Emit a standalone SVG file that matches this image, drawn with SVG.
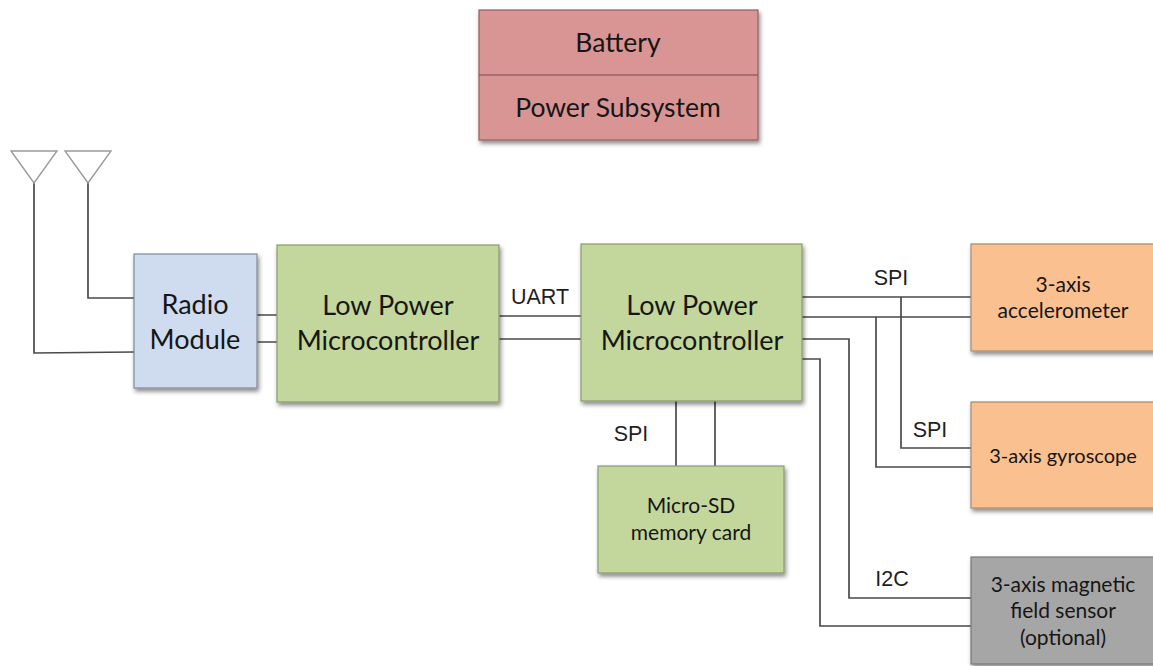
<svg xmlns="http://www.w3.org/2000/svg" width="1153" height="666" viewBox="0 0 1153 666">
<style>
.n{stroke-width:1.2}
.t{font-family:Lato,"Open Sans",sans-serif;fill:#161616;text-anchor:middle}
.l{font-family:"Liberation Sans",Arial,sans-serif;fill:#1f1f1f;font-size:21.5px;text-anchor:middle}
.c{fill:none;stroke:#4a4a4a;stroke-width:1.7}
.a{fill:#fff;stroke:#9a9a9a;stroke-width:1.4}
</style>
<defs>
<filter id="s" x="-10%" y="-10%" width="120%" height="125%">
<feDropShadow dx="1.5" dy="3" stdDeviation="2" flood-color="#000" flood-opacity="0.45"/>
</filter>
</defs>
<rect width="1153" height="666" fill="#fff"/>
<g id="connectors" class="c">
<path class="c" d="M88 183V298H134"/>
<path class="c" d="M34 183V353L134 352"/>
<path class="c" d="M257 315H277M257 342H277"/>
<path class="c" d="M499 316H581M499 339H581"/>
<path class="c" d="M676 401V466M715 401V466"/>
<path class="c" d="M802 297H971M802 317H971"/>
<path class="c" d="M901 297V448H971"/>
<path class="c" d="M876 317V467H971"/>
<path class="c" d="M802 339H849V598H971"/>
<path class="c" d="M802 359H820V626H973"/>
</g>
<g id="antenna1"><path class="a" d="M11 151H57L34 183Z"/></g>
<g id="antenna2"><path class="a" d="M65 151H111L88 183Z"/></g>
<g id="power">
<rect class="n" x="479" y="10" width="279" height="130" fill="#d99594" stroke="#8c6060" filter="url(#s)"/>
<path d="M479 75H758" stroke="#7a4a4a" stroke-width="1.2"/>
<text class="t" x="618" y="52" font-size="26.5">Battery</text>
<text class="t" x="618" y="117" font-size="26.5">Power Subsystem</text>
</g>
<g id="radio">
<rect class="n" x="134" y="254" width="123" height="134" fill="#cfdbee" stroke="#7f8a99" filter="url(#s)"/>
<text class="t" x="195" y="314" font-size="27">Radio</text>
<text class="t" x="195" y="349" font-size="27">Module</text>
</g>
<g id="mcu1">
<rect class="n" x="277" y="245" width="222" height="157" fill="#c3d69b" stroke="#8a9a70" filter="url(#s)"/>
<text class="t" x="388" y="315" font-size="27">Low Power</text>
<text class="t" x="388" y="350" font-size="27">Microcontroller</text>
</g>
<g id="mcu2">
<rect class="n" x="581" y="244" width="221" height="157" fill="#c3d69b" stroke="#8a9a70" filter="url(#s)"/>
<text class="t" x="692" y="315" font-size="27">Low Power</text>
<text class="t" x="692" y="350" font-size="27">Microcontroller</text>
</g>
<g id="sdcard">
<rect class="n" x="598" y="466" width="186" height="107" fill="#c3d69b" stroke="#8a9a70" filter="url(#s)"/>
<text class="t" x="691" y="513" font-size="21">Micro-SD</text>
<text class="t" x="691" y="540" font-size="21">memory card</text>
</g>
<g id="accelerometer">
<rect class="n" x="971" y="244" width="190" height="107" fill="#fac090" stroke="#a58a70" filter="url(#s)"/>
<text class="t" x="1063" y="292" font-size="21">3-axis</text>
<text class="t" x="1063" y="318" font-size="21">accelerometer</text>
</g>
<g id="gyroscope">
<rect class="n" x="971" y="402" width="190" height="106" fill="#fac090" stroke="#a58a70" filter="url(#s)"/>
<text class="t" x="1063" y="463" font-size="20">3-axis gyroscope</text>
</g>
<g id="magnetic">
<rect class="n" x="971" y="557" width="190" height="107" fill="#a6a6a6" stroke="#777" filter="url(#s)"/>
<text class="t" x="1063" y="592" font-size="21">3-axis magnetic</text>
<text class="t" x="1063" y="618" font-size="21">field sensor</text>
<text class="t" x="1063" y="645" font-size="21">(optional)</text>
</g>
<g id="labels">
<text class="l" x="540" y="304">UART</text>
<text class="l" x="631" y="441">SPI</text>
<text class="l" x="891" y="285">SPI</text>
<text class="l" x="930" y="437">SPI</text>
<text class="l" x="892" y="586">I2C</text>
</g>
</svg>
